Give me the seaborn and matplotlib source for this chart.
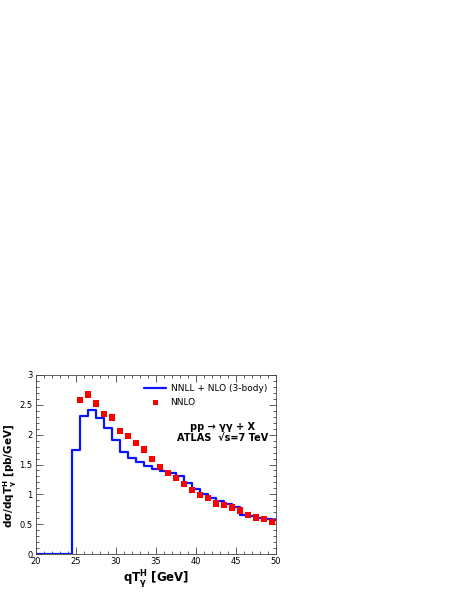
import numpy as np
import pandas as pd
import matplotlib
matplotlib.use("Agg")
import matplotlib.pyplot as plt
import seaborn as sns
from matplotlib.ticker import MultipleLocator, FuncFormatter

# NNLL + NLO (3-body), bin centres 20..50
qt_bins = list(range(20, 51))
nnll = [0, 0, 0, 0, 0, 1.735, 2.31, 2.41, 2.28, 2.12, 1.91, 1.71, 1.61, 1.55, 1.48,
        1.43, 1.39, 1.36, 1.31, 1.19, 1.09, 1.01, 0.94, 0.88, 0.84, 0.78, 0.66,
        0.63, 0.61, 0.59, 0.57]

# NNLO points
qt_pts = [25.5, 26.5, 27.5, 28.5, 29.5, 30.5, 31.5, 32.5, 33.5, 34.5, 35.5, 36.5,
          37.5, 38.5, 39.5, 40.5, 41.5, 42.5, 43.5, 44.5, 45.5, 46.5, 47.5, 48.5, 49.5]
nnlo = [2.58, 2.67, 2.52, 2.35, 2.29, 2.06, 1.98, 1.86, 1.75, 1.59, 1.46, 1.36,
        1.27, 1.17, 1.07, 0.99, 0.94, 0.85, 0.82, 0.78, 0.73, 0.65, 0.61, 0.59, 0.54]

sns.set_style("ticks")
plt.rcParams["font.family"] = ["DejaVu Sans"]
plt.rcParams["text.color"] = "black"
plt.rcParams["axes.labelcolor"] = "black"

df_line = pd.DataFrame({"qt": qt_bins, "val": nnll})
df_pts = pd.DataFrame({"qt": qt_pts, "val": nnlo})

fig = plt.figure(figsize=(4.58, 5.92), dpi=100)
ax = fig.add_axes([36 / 458, 38 / 592, 240 / 458, 179 / 592])

sns.lineplot(data=df_line, x="qt", y="val", ax=ax, color="#0a14ff", lw=1.6,
             drawstyle="steps-mid", label="NNLL + NLO (3-body)")
sns.scatterplot(data=df_pts, x="qt", y="val", ax=ax, color="#ff0000", marker="s",
                s=22, edgecolor="none", label="NNLO", zorder=3)

ax.set_xlim(20, 50)
ax.set_ylim(0, 3)
ax.xaxis.set_major_locator(MultipleLocator(5))
ax.xaxis.set_minor_locator(MultipleLocator(1))
ax.yaxis.set_major_locator(MultipleLocator(0.5))
ax.yaxis.set_minor_locator(MultipleLocator(0.1))
ax.yaxis.set_major_formatter(FuncFormatter(lambda v, _: f"{v:g}"))
ax.tick_params(which="both", direction="in", top=True, right=True, labelsize=6,
               width=0.6, color="#444444", labelcolor="black")
ax.tick_params(which="major", length=5, pad=2.5)
ax.tick_params(which="minor", length=2.5)
for sp in ax.spines.values():
    sp.set_linewidth(0.6)
    sp.set_color("#444444")

ax.set_xlabel(r"qT$^{\mathbf{H}}_{\mathbf{\gamma}}$ [GeV]", fontsize=8.5, fontweight="bold", labelpad=1)
ax.set_ylabel("")
fig.text(2 / 458, (592 - 476) / 592,
         r"d$\mathbf{\sigma}$/dqT$^{\mathbf{H}}_{\mathbf{\gamma}}$ [pb/GeV]",
         rotation=90, ha="left", va="center", fontsize=7.5, fontweight="bold")

ax.legend(loc="upper right", frameon=False, fontsize=6.5, handlelength=2.4,
          borderaxespad=0.6, handletextpad=0.5, markerscale=0.8)

ax.text(43.3, 2.13, "pp → γγ + X", ha="center", va="center", fontsize=7, fontweight="bold")
ax.text(43.3, 1.94, "ATLAS  √s=7 TeV", ha="center", va="center", fontsize=7, fontweight="bold")

fig.savefig("out.png", dpi=100)
